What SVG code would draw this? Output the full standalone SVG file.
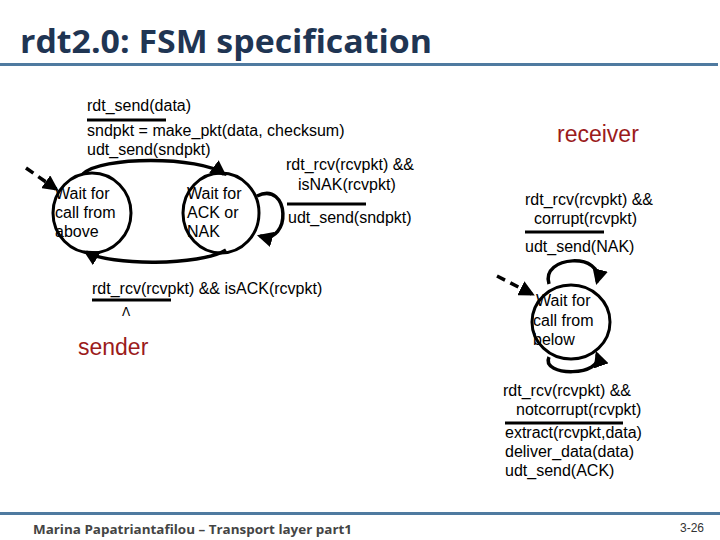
<svg xmlns="http://www.w3.org/2000/svg" width="720" height="540" viewBox="0 0 720 540">
<style>
.t{font-family:"Liberation Sans",Arial,sans-serif;font-size:16px;fill:#000}
.st{fill:none;stroke:#000;stroke-width:3}
.bar{stroke:#000;stroke-width:3}
.ed{fill:none;stroke:#000;stroke-width:3.5}
.red{font-family:"Liberation Sans",Arial,sans-serif;font-size:23px;fill:#9b1b1b}
</style>
<defs>
<marker id="ah" viewBox="0 0 10 10" refX="8" refY="5" markerWidth="4.5" markerHeight="4.5" orient="auto" markerUnits="strokeWidth">
<path d="M0,0 L10,5 L0,10 z" fill="#000"/>
</marker>
</defs>
<rect width="720" height="540" fill="#fff"/>
<text x="20" y="53" font-family="'Open Sans','Noto Sans',sans-serif" font-weight="700" font-size="32" fill="#1f3553" textLength="412" lengthAdjust="spacingAndGlyphs">rdt2.0: FSM specification</text>
<rect x="0" y="63" width="718" height="3" fill="#4f7aa0"/>
<rect x="0" y="512" width="720" height="3" fill="#4f7aa0"/>
<text x="33" y="534" font-family="'Open Sans','Noto Sans',sans-serif" font-weight="700" font-size="13" fill="#444" textLength="319" lengthAdjust="spacingAndGlyphs">Marina Papatriantafilou –  Transport layer part1</text>
<text x="680" y="532" font-family="'Liberation Sans',sans-serif" font-size="12" fill="#333">3-26</text>

<g id="s1">
<ellipse class="st" cx="92" cy="213" rx="39" ry="40"/>
<text class="t" x="55" y="199">Wait for</text>
<text class="t" x="55" y="218">call from</text>
<text class="t" x="55" y="237">above</text>
</g>
<g id="s2">
<ellipse class="st" cx="221" cy="213" rx="38" ry="40"/>
<text class="t" x="187" y="199">Wait for</text>
<text class="t" x="187" y="218">ACK or</text>
<text class="t" x="187" y="237">NAK</text>
</g>
<g id="r1">
<ellipse class="st" cx="571" cy="322" rx="39" ry="37"/>
<text class="t" x="536" y="306">Wait for</text>
<text class="t" x="533" y="326">call from</text>
<text class="t" x="533" y="345">below</text>
</g>

<g id="connectors">
<path class="ed" stroke-dasharray="9,6" d="M26,168 L56,189" marker-end="url(#ah)"/>
<path class="ed" d="M83,174 C100,156 200,156 224,174" marker-end="url(#ah)"/>
<path class="ed" d="M226,250 C200,266 110,266 86,252" marker-end="url(#ah)"/>
<path class="ed" d="M257,196 C290,180 292,245 260,236" marker-end="url(#ah)"/>
<path class="ed" stroke-dasharray="9,6" d="M497,276 L532,294" marker-end="url(#ah)"/>
<path class="ed" d="M549,284 C540,255 605,252 597,282" marker-end="url(#ah)"/>
<path class="ed" d="M549,357 C540,377 605,377 597,354" marker-end="url(#ah)"/>
</g>

<g id="labels">
<text class="t" x="87" y="111">rdt_send(data)</text>
<line class="bar" x1="87" y1="120" x2="166" y2="120"/>
<text class="t" x="87" y="136">sndpkt = make_pkt(data, checksum)</text>
<text class="t" x="87" y="155">udt_send(sndpkt)</text>
<text class="t" x="286" y="170">rdt_rcv(rcvpkt) &amp;&amp;</text>
<text class="t" x="298" y="190">isNAK(rcvpkt)</text>
<line class="bar" x1="287" y1="204" x2="366" y2="204"/>
<text class="t" x="288" y="223">udt_send(sndpkt)</text>
<text class="t" x="92" y="294">rdt_rcv(rcvpkt) &amp;&amp; isACK(rcvpkt)</text>
<line class="bar" x1="92" y1="300" x2="171" y2="300"/>
<text x="122" y="316" font-family="'DejaVu Sans',sans-serif" font-size="12">Λ</text>
<text class="red" x="78" y="355">sender</text>
<text class="red" x="557" y="142">receiver</text>
<text class="t" x="525" y="205">rdt_rcv(rcvpkt) &amp;&amp;</text>
<text class="t" x="534" y="224">corrupt(rcvpkt)</text>
<line class="bar" x1="525" y1="232" x2="604" y2="232"/>
<text class="t" x="525" y="252">udt_send(NAK)</text>
<text class="t" x="503" y="396">rdt_rcv(rcvpkt) &amp;&amp;</text>
<text class="t" x="516" y="415">notcorrupt(rcvpkt)</text>
<line class="bar" x1="505" y1="423" x2="623" y2="423"/>
<text class="t" x="505" y="438">extract(rcvpkt,data)</text>
<text class="t" x="505" y="457">deliver_data(data)</text>
<text class="t" x="505" y="476">udt_send(ACK)</text>
</g>
</svg>
